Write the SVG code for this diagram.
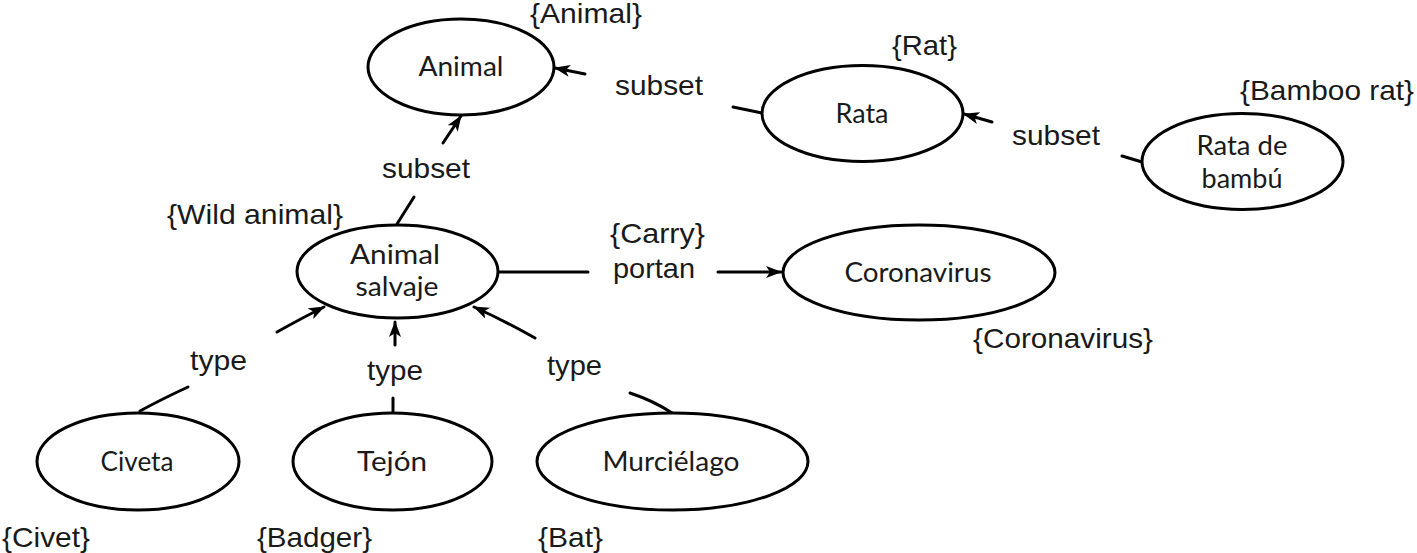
<svg xmlns="http://www.w3.org/2000/svg" width="1417" height="553" viewBox="0 0 1417 553">
<style>
.node ellipse{fill:#fff;stroke:#000;stroke-width:3}
.nt{font-family:Lato,"Open Sans","Noto Sans",sans-serif;font-size:26px;fill:#1a1a1a;text-anchor:middle}
.lb{font-family:"Liberation Sans",Arial,sans-serif;font-size:28px;fill:#1a1a1a}
.edges path,.edges line{stroke:#000;stroke-width:3;fill:none;stroke-linecap:round}
</style>
<defs>
<marker id="ah" viewBox="0 0 16 12" refX="15" refY="6" markerWidth="16" markerHeight="12" orient="auto" markerUnits="userSpaceOnUse">
<path d="M0,0 L16,6 L0,12 L4,6 z" fill="#000"/>
</marker>
</defs>
<rect width="1417" height="553" fill="#fff"/>

<g class="edges" id="connectors">
<line x1="585" y1="74" x2="555" y2="68" marker-end="url(#ah)"/>
<line x1="733" y1="107" x2="762" y2="113"/>
<line x1="992" y1="122" x2="964" y2="114" marker-end="url(#ah)"/>
<line x1="1122" y1="156" x2="1142" y2="162"/>
<line x1="443" y1="143" x2="461" y2="116" marker-end="url(#ah)"/>
<line x1="397" y1="224" x2="414" y2="197"/>
<line x1="498" y1="272" x2="588" y2="272"/>
<line x1="718" y1="272" x2="781" y2="272" marker-end="url(#ah)"/>
<path d="M277,332 Q302,318 324,307" marker-end="url(#ah)"/>
<line x1="395" y1="345" x2="395" y2="322" marker-end="url(#ah)"/>
<path d="M535,338 Q503,320 474,307" marker-end="url(#ah)"/>
<path d="M188,387 Q162,399 140,411"/>
<line x1="393" y1="398" x2="393" y2="413"/>
<path d="M630,393 Q654,401 672,413"/>
</g>

<g class="lb" id="edge-labels">
<text x="615" y="95" textLength="88" lengthAdjust="spacingAndGlyphs">subset</text>
<text x="1012" y="145" textLength="88" lengthAdjust="spacingAndGlyphs">subset</text>
<text x="382" y="178" textLength="88" lengthAdjust="spacingAndGlyphs">subset</text>
<text x="610" y="243" textLength="95" lengthAdjust="spacingAndGlyphs">{Carry}</text>
<text x="613" y="278" textLength="82" lengthAdjust="spacingAndGlyphs">portan</text>
<text x="190" y="370" textLength="57" lengthAdjust="spacingAndGlyphs">type</text>
<text x="367" y="380" textLength="56" lengthAdjust="spacingAndGlyphs">type</text>
<text x="547" y="375" textLength="55" lengthAdjust="spacingAndGlyphs">type</text>
</g>

<g class="node" id="node-animal">
<ellipse cx="461" cy="67" rx="93" ry="48"/>
<text class="nt" x="461" y="76" textLength="85" lengthAdjust="spacingAndGlyphs">Animal</text>
<text class="lb" x="530" y="23" textLength="112" lengthAdjust="spacingAndGlyphs">{Animal}</text>
</g>

<g class="node" id="node-rata">
<ellipse cx="862.5" cy="113.5" rx="100.5" ry="48"/>
<text class="nt" x="862" y="123" textLength="53" lengthAdjust="spacingAndGlyphs">Rata</text>
<text class="lb" x="892" y="55" textLength="65" lengthAdjust="spacingAndGlyphs">{Rat}</text>
</g>

<g class="node" id="node-rata-bambu">
<ellipse cx="1242.5" cy="161.5" rx="100.5" ry="48"/>
<text class="nt" x="1242" y="155" textLength="91" lengthAdjust="spacingAndGlyphs">Rata de</text>
<text class="nt" x="1242" y="188" textLength="81" lengthAdjust="spacingAndGlyphs">bambú</text>
<text class="lb" x="1240" y="100" textLength="174" lengthAdjust="spacingAndGlyphs">{Bamboo rat}</text>
</g>

<g class="node" id="node-animal-salvaje">
<ellipse cx="397.5" cy="271.5" rx="100.5" ry="46.5"/>
<text class="nt" x="395" y="264" textLength="90" lengthAdjust="spacingAndGlyphs">Animal</text>
<text class="nt" x="397" y="296" textLength="83" lengthAdjust="spacingAndGlyphs">salvaje</text>
<text class="lb" x="167" y="224" textLength="176" lengthAdjust="spacingAndGlyphs">{Wild animal}</text>
</g>

<g class="node" id="node-coronavirus">
<ellipse cx="919" cy="272.5" rx="136" ry="47.5"/>
<text class="nt" x="918" y="282" textLength="147" lengthAdjust="spacingAndGlyphs">Coronavirus</text>
<text class="lb" x="973" y="348" textLength="180" lengthAdjust="spacingAndGlyphs">{Coronavirus}</text>
</g>

<g class="node" id="node-civeta">
<ellipse cx="138" cy="461.5" rx="101" ry="48.5"/>
<text class="nt" x="137" y="471" textLength="73" lengthAdjust="spacingAndGlyphs">Civeta</text>
<text class="lb" x="2" y="547" textLength="88" lengthAdjust="spacingAndGlyphs">{Civet}</text>
</g>

<g class="node" id="node-tejon">
<ellipse cx="392.5" cy="461.5" rx="99.5" ry="48.5"/>
<text class="nt" x="392" y="471" textLength="70" lengthAdjust="spacingAndGlyphs">Tejón</text>
<text class="lb" x="257" y="547" textLength="115" lengthAdjust="spacingAndGlyphs">{Badger}</text>
</g>

<g class="node" id="node-murcielago">
<ellipse cx="672.5" cy="461.5" rx="135.5" ry="48.5"/>
<text class="nt" x="671" y="471" textLength="137" lengthAdjust="spacingAndGlyphs">Murciélago</text>
<text class="lb" x="538" y="547" textLength="65" lengthAdjust="spacingAndGlyphs">{Bat}</text>
</g>
</svg>
